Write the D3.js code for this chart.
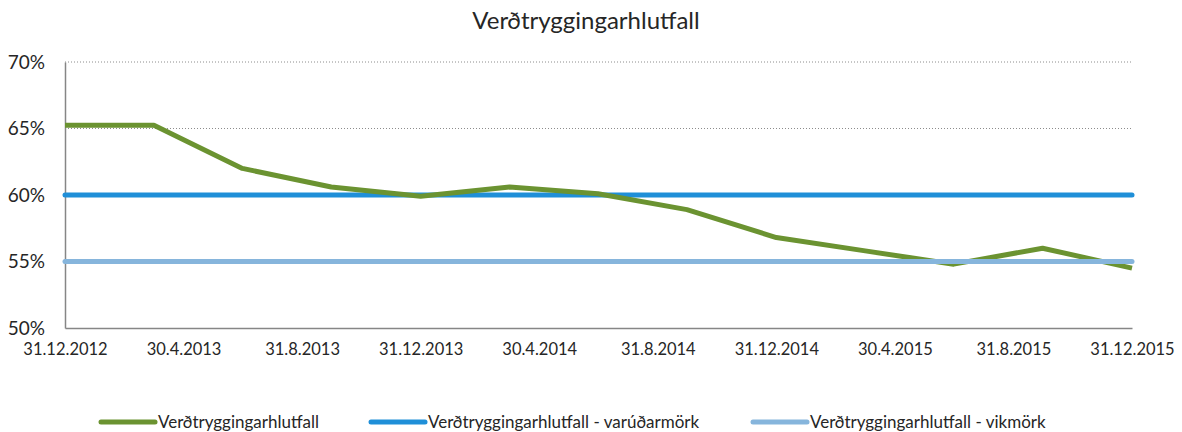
<!DOCTYPE html>
<html>
<head>
<meta charset="utf-8">
<script src="https://cdn.jsdelivr.net/npm/d3@7"></script>
<style>
  body { margin: 0; background: #fff; }
  svg { font-family: Lato, "Open Sans", sans-serif; }
</style>
</head>
<body>
<div id="chart"></div>
<script>
// Quarter-end dates for the measured series
const dates = ["2012-12-31", "2013-03-31", "2013-06-30", "2013-09-30", "2013-12-31",
               "2014-03-31", "2014-06-30", "2014-09-30", "2014-12-31",
               "2015-03-31", "2015-06-30", "2015-09-30", "2015-12-31"];
// Verðtryggingarhlutfall (%)
const ratio = [65.25, 65.25, 62.0, 60.6, 59.9, 60.6, 60.1, 58.9, 56.8, 55.8, 54.8, 56.0, 54.5];
const cautionLimit = 60;   // varúðarmörk
const deviationLimit = 55; // vikmörk
// x tick labels every four months
const tickDates = ["2012-12-31", "2013-04-30", "2013-08-31", "2013-12-31", "2014-04-30",
                   "2014-08-31", "2014-12-31", "2015-04-30", "2015-08-31", "2015-12-31"];
const tickLabels = ["31.12.2012", "30.4.2013", "31.8.2013", "31.12.2013", "30.4.2014",
                    "31.8.2014", "31.12.2014", "30.4.2015", "31.8.2015", "31.12.2015"];
const yTicks = [50, 55, 60, 65, 70];
const seriesNames = ["Verðtryggingarhlutfall", "Verðtryggingarhlutfall - varúðarmörk",
                     "Verðtryggingarhlutfall - vikmörk"];
const colors = ["#6b9331", "#1f8fd8", "#86b5dc"];

const WIDTH = 1182, HEIGHT = 432;
const MARGINS = {top: 62, bottom: 104, left: 65, right: 50};

const parse = d3.timeParse("%Y-%m-%d");
const xs = dates.map(parse);
// the four-month ticks are equally spaced, so position them by index
const tickIndex = d3.scaleLinear([0, tickDates.length - 1], [MARGINS.left, WIDTH - MARGINS.right]);
// map a date to a position by interpolating between the tick dates
const tickTimes = tickDates.map(parse);
const xScale = d3.scaleTime(tickTimes, tickTimes.map((d, i) => tickIndex(i)));
const yScale = d3.scaleLinear([50, 70], [HEIGHT - MARGINS.bottom, MARGINS.top]);

const svg = d3.select("#chart").append("svg")
    .attr("width", WIDTH)
    .attr("height", HEIGHT);

// Title
svg.append("text")
    .attr("x", 586).attr("y", 29)
    .attr("text-anchor", "middle")
    .attr("font-size", 24)
    .attr("fill", "#262626")
    .text("Verðtryggingarhlutfall");

// Dotted gridlines
svg.append("g").selectAll("line")
    .data(yTicks.slice(1))
    .enter().append("line")
    .attr("x1", MARGINS.left).attr("x2", WIDTH - MARGINS.right)
    .attr("y1", d => yScale(d)).attr("y2", d => yScale(d))
    .attr("stroke", "#8c8c8c")
    .attr("stroke-width", 1)
    .attr("stroke-dasharray", "1,2");

// y axis
const yAxis = svg.append("g")
    .attr("transform", `translate(${MARGINS.left}, 0)`)
    .call(d3.axisLeft(yScale).tickValues(yTicks).tickFormat(d => d + "%").tickSize(0).tickPadding(20));
yAxis.select(".domain").attr("stroke", "#868686").attr("stroke-width", 1.5);
yAxis.selectAll("text").attr("font-size", 19).attr("fill", "#262626").attr("font-family", "Lato");

// x axis
const xAxis = svg.append("g")
    .attr("transform", `translate(0, ${yScale(50)})`)
    .call(d3.axisBottom(xScale).tickValues(tickTimes).tickFormat((d, i) => tickLabels[i]).tickSize(0).tickPadding(15));
xAxis.select(".domain").attr("stroke", "#868686").attr("stroke-width", 1.5);
xAxis.selectAll("text").attr("font-size", 16.5).attr("fill", "#262626").attr("font-family", "Lato");

// Lines
const line = d3.line().x(d => xScale(d[0])).y(d => yScale(d[1]));
const xEnds = [xs[0], xs[xs.length - 1]];

svg.append("path")
    .datum(xEnds.map(d => [d, cautionLimit]))
    .attr("d", line)
    .attr("fill", "none")
    .attr("stroke", colors[1])
    .attr("stroke-width", 5)
    .attr("stroke-linecap", "round");

svg.append("path")
    .datum(xs.map((d, i) => [d, ratio[i]]))
    .attr("d", line)
    .attr("fill", "none")
    .attr("stroke", colors[0])
    .attr("stroke-width", 5)
    .attr("stroke-linejoin", "round");

svg.append("path")
    .datum(xEnds.map(d => [d, deviationLimit]))
    .attr("d", line)
    .attr("fill", "none")
    .attr("stroke", colors[2])
    .attr("stroke-width", 5)
    .attr("stroke-linecap", "round");

// Legend
const legendX = [101, 371, 753];
const legend = svg.append("g").selectAll("g")
    .data(seriesNames)
    .enter().append("g")
    .attr("transform", (d, i) => `translate(${legendX[i]}, 422)`);
legend.append("line")
    .attr("x1", 0).attr("x2", 54)
    .attr("stroke", (d, i) => colors[i])
    .attr("stroke-width", 5)
    .attr("stroke-linecap", "round");
legend.append("text")
    .attr("x", 57).attr("y", 6)
    .attr("font-size", 17)
    .attr("fill", "#262626")
    .text(d => d);
</script>
</body>
</html>
